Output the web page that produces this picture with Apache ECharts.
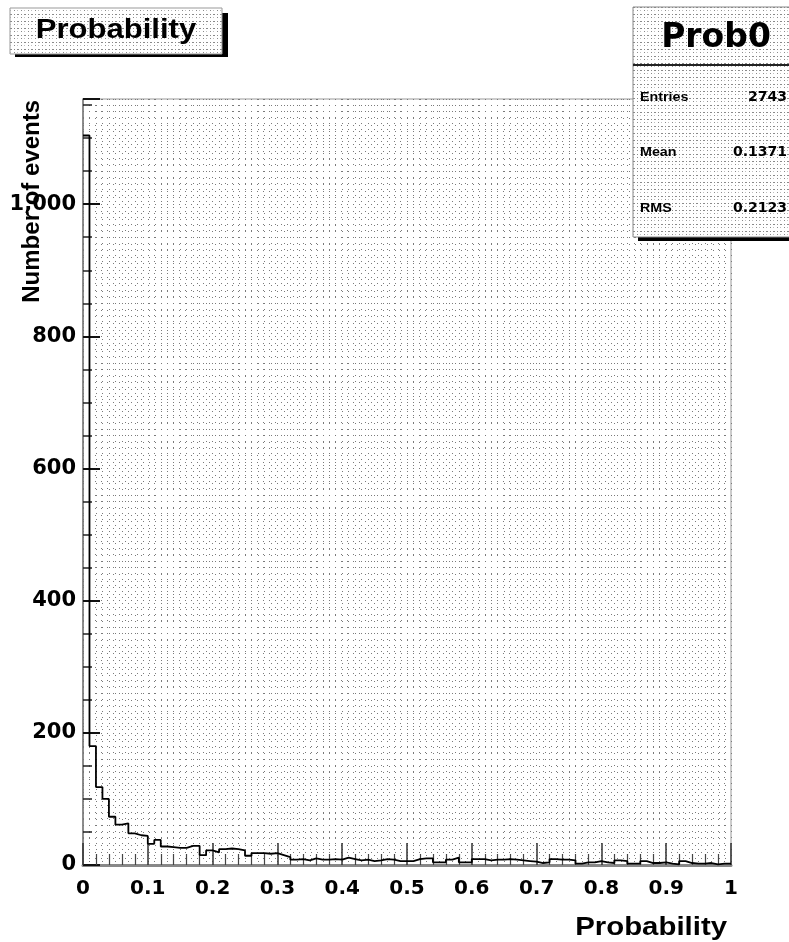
<!DOCTYPE html>
<html>
<head>
<meta charset="utf-8">
<script src="https://cdn.jsdelivr.net/npm/echarts@6/dist/echarts.min.js"></script>
<style>
html,body{margin:0;padding:0;background:#fff;}
#c{width:789px;height:942px;}
</style>
</head>
<body>
<div id="c"></div>
<script>
// ---- data ----
const binLow = 0;
const binHigh = 1;
const counts = [
  1104, 180, 118, 100, 73, 61, 63, 48, 45, 44,
  32, 38, 28, 27, 26, 26, 29, 29, 15, 22,
  19, 24, 25, 24, 22, 14, 18, 18, 17, 18,
  15, 12, 8, 9, 7, 10, 8, 8, 9, 8,
  11, 9, 7, 8, 6, 7, 9, 8, 6, 6,
  6, 9, 10, 10, 4, 4, 8, 11, 4, 4,
  9, 9, 7, 8, 8, 9, 8, 7, 6, 5,
  3, 4, 9, 8, 8, 7, 2, 4, 4, 6,
  4, 3, 7, 6, 2, 2, 6, 3, 3, 4,
  2, 1, 6, 3, 2, 2, 3, 1, 2, 2
];
const xTickStep = 0.1;
const yTickStep = 200;
const plotTitle = 'Probability';
const xTitle = 'Probability';
const yTitle = 'Number of events';
const statsTitle = 'Prob0';
const statsNames = ['Entries', 'Mean', 'RMS'];
const statsValues = ['2743', '0.1371', '0.2123'];

// ---- build ----
const nBins = counts.length;
const binW = (binHigh - binLow) / nBins;
const stepData = counts.map((v, i) => [binLow + i * binW, v]);
stepData.push([binHigh, counts[nBins - 1]]);
const yMax = Math.max(...counts) * 1.05;

function makePattern() {
  const c = document.createElement('canvas');
  c.width = 7; c.height = 7;
  const g = c.getContext('2d');
  g.fillStyle = '#ffffff'; g.fillRect(0, 0, 7, 7);
  g.fillStyle = '#8a8a8a';
  g.fillRect(0, 0, 1, 1); g.fillRect(3, 0, 2, 1); g.fillRect(0, 3, 1, 1);
  g.fillStyle = '#c0c0c0';
  g.fillRect(3, 3, 1, 1);
  return c;
}
const pat = { image: makePattern(), repeat: 'repeat' };

const chart = echarts.init(document.getElementById('c'), null, { renderer: 'canvas' });

const dotted = { color: '#7a7a7a', width: 1, type: [1, 5] };

const option = {
  animation: false,
  backgroundColor: '#fff',
  grid: { left: 83, right: 58, top: 99, bottom: 77, show: true, borderColor: '#999', borderWidth: 1, backgroundColor: 'transparent' },
  xAxis: [
    {
      type: 'value', min: binLow, max: binHigh, interval: xTickStep,
      axisLine: { show: true, onZero: false, lineStyle: { color: '#888', width: 3 } },
      axisTick: { show: true, inside: true, length: 22, lineStyle: { color: '#333', width: 1.5 } },
      minorTick: { show: true, splitNumber: 5, length: 11, lineStyle: { color: '#444', width: 1.2 } },
      splitLine: { show: false },
      axisLabel: { color: '#000', fontFamily: 'DejaVu Sans', fontWeight: 'bold', fontSize: 20, margin: 14 }
    },
    {
      type: 'value', min: binLow, max: binHigh, interval: binW, position: 'top',
      axisLine: { show: false }, axisTick: { show: false }, axisLabel: { show: false },
      splitLine: { show: true, lineStyle: dotted }
    }
  ],
  yAxis: [
    {
      type: 'value', min: 0, max: yMax, interval: yTickStep,
      axisLine: { show: true, onZero: false, lineStyle: { color: '#777', width: 1.5 } },
      axisTick: { show: true, inside: true, length: 17, lineStyle: { color: '#111', width: 2 } },
      minorTick: { show: true, splitNumber: 4, length: 9, lineStyle: { color: '#222', width: 1.5 } },
      splitLine: { show: false },
      axisLabel: { color: '#000', fontFamily: 'DejaVu Sans', fontWeight: 'bold', fontSize: 21, margin: 7, showMaxLabel: false }
    },
    {
      type: 'value', min: 0, max: yMax, interval: 10, position: 'right',
      axisLine: { show: false }, axisTick: { show: false }, axisLabel: { show: false },
      splitLine: { show: true, lineStyle: dotted }
    }
  ],
  series: [
    {
      type: 'line', step: 'end', data: stepData, xAxisIndex: 0, yAxisIndex: 0,
      symbol: 'none', z: 5,
      lineStyle: { color: '#000', width: 1.8 }
    }
  ],
  graphic: [
    // title box
    { type: 'rect', shape: { x: 15, y: 13, width: 213, height: 44 }, style: { fill: '#000' }, z: 50 },
    { type: 'rect', shape: { x: 10, y: 8, width: 212, height: 46 }, style: { fill: pat, stroke: '#999', lineWidth: 1 }, z: 51 },
    { type: 'text', x: 116, y: 31, scaleX: 1.15, z: 52,
      style: { text: plotTitle, font: 'bold 27px "Liberation Sans"', fill: '#000', textAlign: 'center', textVerticalAlign: 'middle' } },
    // stats box
    { type: 'rect', shape: { x: 638, y: 12, width: 170, height: 229 }, style: { fill: '#000' }, z: 50 },
    { type: 'rect', shape: { x: 633, y: 7, width: 170, height: 230 }, style: { fill: pat, stroke: '#888', lineWidth: 1 }, z: 51 },
    { type: 'line', shape: { x1: 633, y1: 65, x2: 789, y2: 65 }, style: { stroke: '#222', lineWidth: 2 }, z: 52 },
    { type: 'text', x: 716, y: 38, z: 52,
      style: { text: statsTitle, font: 'bold 33px "DejaVu Sans"', fill: '#000', textAlign: 'center', textVerticalAlign: 'middle' } },
    ...statsNames.map((n, i) => ({ type: 'text', x: 640, y: 97 + i * 55.5, z: 52, scaleX: 1.1,
      style: { text: n, font: 'bold 13px "Liberation Sans"', fill: '#000', textAlign: 'left', textVerticalAlign: 'middle' } })),
    ...statsValues.map((v, i) => ({ type: 'text', x: 787, y: 97 + i * 55.5, z: 52,
      style: { text: v, font: 'bold 14px "DejaVu Sans"', fill: '#000', textAlign: 'right', textVerticalAlign: 'middle' } })),
    // axis titles
    { type: 'text', x: 727, y: 928, scaleX: 1.13, z: 52,
      style: { text: xTitle, font: 'bold 26px "Liberation Sans"', fill: '#000', textAlign: 'right', textVerticalAlign: 'middle' } },
    { type: 'text', x: 32, y: 100, rotation: Math.PI / 2, z: 52,
      style: { text: yTitle, font: 'bold 24px "Liberation Sans"', fill: '#000', textAlign: 'right', textVerticalAlign: 'middle' } }
  ]
};
chart.setOption(option);
</script>
</body>
</html>
